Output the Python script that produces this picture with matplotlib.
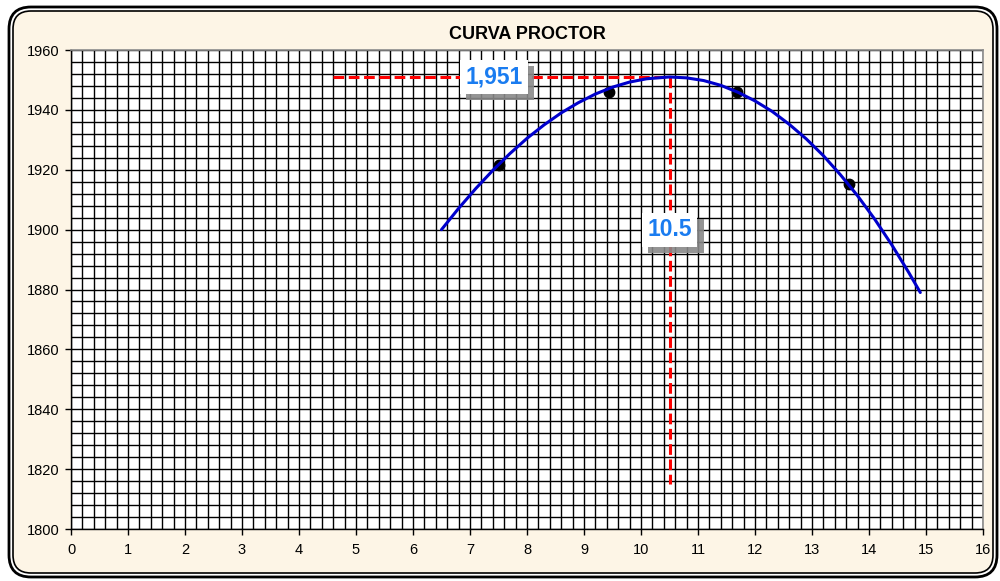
import matplotlib
matplotlib.use("Agg")
import matplotlib.pyplot as plt
import matplotlib.patheffects as pe
from matplotlib.patches import FancyBboxPatch
from matplotlib.transforms import IdentityTransform
from matplotlib.ticker import MultipleLocator

plt.rcParams['font.family'] = ['Liberation Sans', 'DejaVu Sans']

# Compaction test results: moisture content (%) vs dry density (kg/m3)
moisture = [7.50, 9.43, 11.68, 13.65]
density = [1921.7, 1946.1, 1945.9, 1915.2]

# Compaction curve (trend line) sampled along its length
curve_x = [6.5, 6.8, 7.1, 7.4, 7.7, 8.0, 8.3, 8.6, 8.9, 9.2, 9.5, 9.8,
           10.1, 10.5, 10.8, 11.1, 11.4, 11.7, 12.0, 12.3, 12.6, 12.9,
           13.2, 13.5, 13.8, 14.1, 14.4, 14.7, 14.9]
curve_y = [1900.0, 1907.1, 1913.7, 1919.8, 1925.4, 1930.5, 1935.0, 1939.0,
           1942.4, 1945.3, 1947.6, 1949.3, 1950.4, 1951.0, 1950.7, 1949.8,
           1948.2, 1945.9, 1943.0, 1939.5, 1935.2, 1930.3, 1924.7, 1918.3,
           1911.3, 1903.5, 1894.9, 1885.6, 1879.0]

# Optimum moisture content and maximum dry density
opt_moisture = 10.5
max_density = 1951

x_ticks = list(range(0, 17))
y_ticks = list(range(1800, 1961, 20))

fig = plt.figure(figsize=(10, 5.81), dpi=100)
fig.patch.set_facecolor('white')

# Rounded double frame around the chart
ident = IdentityTransform()
outer = FancyBboxPatch((9, 4), 988, 570, boxstyle="round,pad=0,rounding_size=22",
                       transform=ident, facecolor='white', edgecolor='black',
                       linewidth=2.0, zorder=0)
inner = FancyBboxPatch((13, 8), 980, 562, boxstyle="round,pad=0,rounding_size=18",
                       transform=ident, facecolor='#FDF5E6', edgecolor='black',
                       linewidth=1.2, zorder=0)
fig.add_artist(outer)
fig.add_artist(inner)

ax = fig.add_axes([0.071, 0.0895, 0.912, 0.8244])
ax.set_facecolor('white')
ax.set_zorder(2)

ax.set_xlim(x_ticks[0], x_ticks[-1])
ax.set_ylim(y_ticks[0], y_ticks[-1])
ax.set_xticks(x_ticks)
ax.set_yticks(y_ticks)
ax.xaxis.set_minor_locator(MultipleLocator(0.2))
ax.yaxis.set_minor_locator(MultipleLocator(4))
ax.grid(True, which='both', color='black', linewidth=1.0, zorder=0)
ax.set_axisbelow(True)
ax.tick_params(which='major', direction='out', length=4, width=1,
               labelsize=10.5, colors='black')
ax.tick_params(axis='x', which='major', pad=6)
ax.tick_params(axis='y', which='major', pad=4)
ax.tick_params(which='minor', length=0)

for side in ('left', 'bottom'):
    ax.spines[side].set_color('black')
    ax.spines[side].set_linewidth(1.0)
for side in ('top', 'right'):
    ax.spines[side].set_color('#8c8c8c')
    ax.spines[side].set_linewidth(1.2)

# Reference lines to the optimum point
ax.plot([4.6, opt_moisture], [max_density, max_density], color='#FF0000',
        linewidth=2.2, dashes=(3.5, 1.5), zorder=3)
ax.plot([opt_moisture, opt_moisture], [max_density, 1815], color='#FF0000',
        linewidth=2.2, dashes=(3.5, 1.5), zorder=3)

ax.plot(moisture, density, 'o', color='black', markersize=7.5, zorder=4)
ax.plot(curve_x, curve_y, color='#0000CC', linewidth=2.2, zorder=5,
        solid_joinstyle='round', solid_capstyle='round')

shadow = [pe.SimplePatchShadow(offset=(4.5, -4.5), shadow_rgbFace='#888888', alpha=0.9),
          pe.Normal()]
for x, y, label in [(7.42, max_density, f"{max_density:,}"),
                    (opt_moisture, 1900, f"{opt_moisture}")]:
    t = ax.text(x, y, label, ha='center', va='center', fontsize=16.5,
                fontweight='bold', color='#1A7CF0', zorder=6,
                bbox=dict(boxstyle='square,pad=0.24', facecolor='white',
                          edgecolor='none'))
    t.get_bbox_patch().set_path_effects(shadow)

ax.set_title("CURVA PROCTOR", fontsize=13, fontweight='bold', pad=8)

fig.savefig("out.png", dpi=100)
